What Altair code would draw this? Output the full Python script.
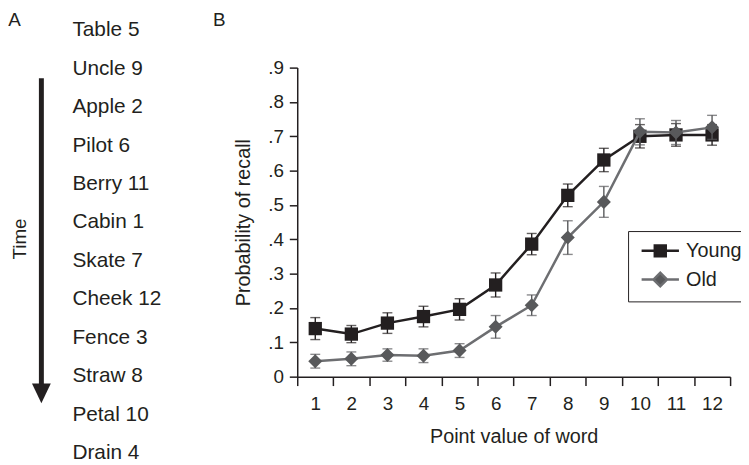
import altair as alt
import pandas as pd

# ---------------- data ----------------
words = ["Table 5", "Uncle 9", "Apple 2", "Pilot 6", "Berry 11", "Cabin 1",
         "Skate 7", "Cheek 12", "Fence 3", "Straw 8", "Petal 10", "Drain 4"]
points = list(range(1, 13))
young = [0.140, 0.124, 0.156, 0.175, 0.196, 0.267, 0.386, 0.528, 0.631, 0.700, 0.704, 0.704]
young_err = [0.032, 0.025, 0.030, 0.030, 0.031, 0.035, 0.031, 0.033, 0.034, 0.034, 0.033, 0.030]
old = [0.045, 0.052, 0.063, 0.061, 0.076, 0.145, 0.208, 0.405, 0.509, 0.713, 0.711, 0.726]
old_err = [0.020, 0.020, 0.018, 0.020, 0.020, 0.033, 0.030, 0.049, 0.045, 0.038, 0.035, 0.035]
groups = ["Young", "Old"]
y_ticks = [0, 0.1, 0.2, 0.3, 0.4, 0.5, 0.6, 0.7, 0.8, 0.9]

FONT = "Liberation Sans"
TEXT = "#231f20"
BLACK = "#231f20"
GRAY = "#58595b"
LGRAY = "#6d6e71"

def frame(vals, errs, name):
    return pd.DataFrame({
        "point": points,
        "value": vals,
        "lo": [v - e for v, e in zip(vals, errs)],
        "hi": [v + e for v, e in zip(vals, errs)],
        "group": name,
    })

dy = frame(young, young_err, "Young")
do = frame(old, old_err, "Old")

x_axis = alt.Axis(title="Point value of word", tickBand="extent", labelAngle=0,
                  grid=False, domainColor=TEXT, domainWidth=1.5, tickColor=TEXT,
                  tickWidth=1.5, tickSize=9, labelPadding=9, labelFont=FONT,
                  labelFontSize=19, labelColor=TEXT, titleFont=FONT,
                  titleFontSize=20, titleFontWeight="normal", titleColor=TEXT,
                  titlePadding=13)
y_axis = alt.Axis(title="Probability of recall", values=y_ticks,
                  labelExpr="datum.value == 0 ? '0' : replace(format(datum.value, '.1f'), '0.', '.')",
                  grid=False, domainColor=TEXT, domainWidth=1.5, tickColor=TEXT,
                  tickWidth=1.5, tickSize=8, labelPadding=6, labelFont=FONT,
                  labelFontSize=19, labelColor=TEXT, titleFont=FONT,
                  titleFontSize=20, titleFontWeight="normal", titleColor=TEXT,
                  titlePadding=14)

def X():
    return alt.X("point:O", scale=alt.Scale(type="band", domain=points,
                                            paddingInner=0, paddingOuter=0),
                 axis=x_axis)

def Y(field):
    return alt.Y(f"{field}:Q", scale=alt.Scale(domain=[0, 0.9], nice=False),
                 axis=y_axis)

def series(df, color, line_color, shape, size):
    base = alt.Chart(df)
    line = base.mark_line(color=line_color, strokeWidth=2.5).encode(x=X(), y=Y("value"))
    err = base.mark_rule(color=color, strokeWidth=1.4).encode(
        x=X(), y=Y("lo"), y2="hi:Q")
    cap_lo = base.mark_tick(color=color, size=10, thickness=1.4).encode(x=X(), y=Y("lo"))
    cap_hi = base.mark_tick(color=color, size=10, thickness=1.4).encode(x=X(), y=Y("hi"))
    pts = base.mark_point(filled=True, opacity=1, shape=shape, size=size,
                          color=color).encode(x=X(), y=Y("value"))
    return [line, err, cap_lo, cap_hi, pts]

main_layers = series(dy, BLACK, BLACK, "square", 180) + series(do, GRAY, LGRAY, "diamond", 200)

# legend (line + marker symbols)
sq_path = "M-2.9,0H-0.85V-0.85H0.85V0.85H-0.85V0M0.85,0H2.9"
dia_path = "M-2.9,0H-1.05L0,-1.05L1.05,0L0,1.05L-1.05,0M1.05,0H2.9"
leg = alt.Legend(title=None, orient="none", legendX=334, legendY=165,
                 padding=10, strokeColor=TEXT, symbolSize=169,
                 symbolStrokeWidth=2.5, symbolOffset=12.5, labelOffset=16,
                 labelFont=FONT, labelFontSize=20, labelColor=TEXT,
                 rowPadding=6)
legend_df = pd.DataFrame({"group": groups})
legend_layer = alt.Chart(legend_df).transform_filter("false").mark_point(
    filled=True, opacity=1).encode(
    shape=alt.Shape("group:N", scale=alt.Scale(domain=groups, range=[sq_path, dia_path]), legend=leg),
    fill=alt.Fill("group:N", scale=alt.Scale(domain=groups, range=[BLACK, GRAY]), legend=leg),
    stroke=alt.Stroke("group:N", scale=alt.Scale(domain=groups, range=[BLACK, LGRAY]), legend=leg),
)

main = alt.layer(*main_layers, legend_layer)

# panel A
words_df = pd.DataFrame({"word": words})
word_text = alt.Chart(words_df).mark_text(
    align="left", baseline="middle", font=FONT, fontSize=21, color=TEXT
).encode(
    x=alt.value(-227),
    y=alt.Y("word:N", sort=words, axis=None,
            scale=alt.Scale(type="point", range=[-37.7, 389.1], padding=0)),
    text="word:N",
)

one = pd.DataFrame({"k": [0]})
arrow_line = alt.Chart(one).mark_rule(color=TEXT, strokeWidth=5).encode(
    x=alt.value(-258.3), y=alt.value(10.7), y2=alt.value(322))
arrow_head = alt.Chart(one).mark_point(
    shape="M-1,-1L1,-1L0,1.1Z", filled=True, opacity=1, color=TEXT, size=361
).encode(x=alt.value(-258.3), y=alt.value(328.5))
time_lbl = alt.Chart(one).mark_text(
    text="Time", angle=270, font=FONT, fontSize=19, color=TEXT,
    align="center", baseline="middle").encode(x=alt.value(-280), y=alt.value(173))
a_lbl = alt.Chart(one).mark_text(
    text="A", font=FONT, fontSize=19, color=TEXT, align="left",
    baseline="alphabetic").encode(x=alt.value(-291.7), y=alt.value(-42))
b_lbl = alt.Chart(one).mark_text(
    text="B", font=FONT, fontSize=19, color=TEXT, align="left",
    baseline="alphabetic").encode(x=alt.value(-85), y=alt.value(-42))

panel_a = alt.layer(word_text, arrow_line, arrow_head, time_lbl, a_lbl, b_lbl)

chart = alt.layer(main, panel_a).resolve_scale(y="independent").properties(
    width=437, height=312,
    autosize=alt.AutoSizeParams(type="none"),
    padding={"left": 292, "top": 58, "right": 11, "bottom": 87},
    background="white",
).configure_view(stroke=None)

chart.save("out.html", embed_options={"renderer": "svg", "actions": False})
